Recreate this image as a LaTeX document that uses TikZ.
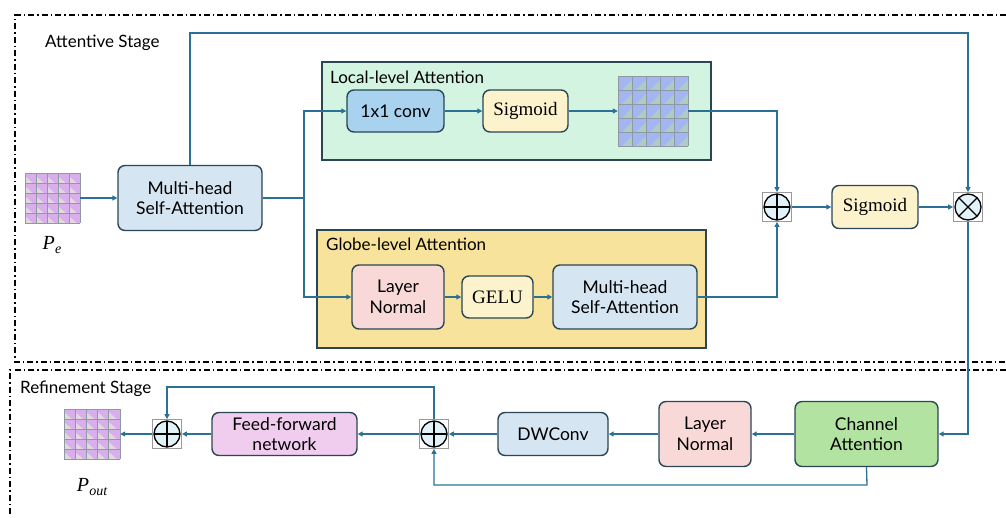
\documentclass[tikz,border=0pt]{standalone}
\usepackage{fontspec}
\setmainfont{Lato}
\newfontfamily\serifx{Liberation Serif}
\usetikzlibrary{arrows.meta}
\definecolor{lc}{HTML}{2B7193}
\definecolor{bdr}{HTML}{2A4654}
\definecolor{mhfill}{HTML}{D5E5F2}
\definecolor{convfill}{HTML}{A8D2EE}
\definecolor{sigfill}{HTML}{FCF2CC}
\definecolor{lnfill}{HTML}{F9D9D8}
\definecolor{greenbox}{HTML}{D3F4E1}
\definecolor{yellowbox}{HTML}{F8E39C}
\definecolor{cafill}{HTML}{B2E3A0}
\definecolor{ffnfill}{HTML}{F0CCEE}
\definecolor{opfill}{HTML}{E1F2F9}
\definecolor{pinkA}{HTML}{E4EDD6}
\definecolor{pinkB}{HTML}{D9AEEC}
\definecolor{blueA}{HTML}{A3B6F2}
\definecolor{blueB}{HTML}{B4D4B2}
\definecolor{gline}{HTML}{8E9AA2}
\tikzset{
  blk/.style={draw=bdr, line width=1.4pt, rounded corners=7pt, align=center,
    font=\fontsize{17.5}{20.5}\selectfont, inner sep=0pt},
  serifblk/.style={blk, font=\serifx\fontsize{19}{21}\selectfont},
  container/.style={draw=bdr, line width=1.4pt, inner sep=0pt},
  conn/.style={draw=lc, line width=1.3pt},
  arr/.style={conn, -{Triangle[length=5pt,width=5pt]}},
  frame/.style={line width=1.6pt, dash pattern=on 6pt off 3pt on 1.5pt off 3pt},
  opbox/.style={draw=gray!80, line width=0.8pt, minimum size=29pt, inner sep=0pt},
  gridbox/.style={inner sep=0pt},
  lbl/.style={font=\fontsize{17}{20}\selectfont, anchor=west, inner sep=0pt},
}
\newcommand\addop[3]{%
  \node[opbox] (#1) at (#2,#3) {};
  \draw[line width=1.3pt, fill=opfill] (#1.center) circle (13pt);
  \draw[line width=1.3pt] ([xshift=-13pt]#1.center) -- ([xshift=13pt]#1.center)
    ([yshift=-13pt]#1.center) -- ([yshift=13pt]#1.center);
}
\newcommand\mulop[3]{%
  \node[opbox] (#1) at (#2,#3) {};
  \draw[line width=1.3pt, fill=opfill] (#1.center) circle (13pt);
  \draw[line width=1.3pt] ([shift={(-9.2pt,-9.2pt)}]#1.center) -- ([shift={(9.2pt,9.2pt)}]#1.center)
    ([shift={(-9.2pt,9.2pt)}]#1.center) -- ([shift={(9.2pt,-9.2pt)}]#1.center);
}
% grid: name, x0, y0 (top-left), cell w, cell h, main colour, corner colour, corner (1 = bottom-left, 2 = bottom-right)
\newcommand\cellgrid[8]{%
  \fill[#6] (#2,#3) rectangle ({#2+5*#4},{#3+5*#5});
  \foreach \i in {0,...,4}{\foreach \j in {0,...,4}{%
    \ifnum#8=1
      \fill[#7, opacity=0.7] ({#2+\i*#4},{#3+\j*#5+0.3*#5}) -- ({#2+\i*#4},{#3+(\j+1)*#5}) -- ({#2+\i*#4+0.7*#4},{#3+(\j+1)*#5}) -- cycle;
    \else
      \fill[#7, opacity=0.7] ({#2+(\i+1)*#4},{#3+\j*#5+0.3*#5}) -- ({#2+(\i+1)*#4},{#3+(\j+1)*#5}) -- ({#2+\i*#4+0.3*#4},{#3+(\j+1)*#5}) -- cycle;
    \fi
  }}
  \foreach \i in {0,...,5}{%
    \draw[gline, line width=0.8pt] ({#2+\i*#4},#3) -- ({#2+\i*#4},{#3+5*#5});
    \draw[gline, line width=0.8pt] (#2,{#3+\i*#5}) -- ({#2+5*#4},{#3+\i*#5});
  }
  \node[gridbox, minimum width={5*#4}, minimum height={5*#5}] (#1) at ({#2+2.5*#4},{#3+2.5*#5}) {};
}
\begin{document}
\begin{tikzpicture}[x=1pt,y=-1pt]
\useasboundingbox (0,0) rectangle (1006,517);

% stage frames
\draw[frame] (1006,15) -- (15,15) -- (15,362) -- (1006,362);
\draw[frame] (1006,370) -- (10,370) -- (10,517);
\node[lbl] (att) at (45,43) {Attentive Stage};
\node[lbl] (ref) at (20,389) {Refinement Stage};

% containers
\node[container, fill=greenbox, minimum width=389pt, minimum height=98pt] (local) at (516.5,111) {};
\node[lbl] (locallbl) at (330,77) {Local-level Attention};
\node[container, fill=yellowbox, minimum width=389pt, minimum height=118pt] (globe) at (511.5,289) {};
\node[lbl] (globelbl) at (326,244) {Globe-level Attention};

% input grid
\cellgrid{pe}{25}{173}{11}{10}{pinkB}{pinkA}{1}
\node[font=\serifx\itshape\fontsize{20}{21}\selectfont, inner sep=0pt] (pelbl) at (52,245) {P\kern0.3pt\raisebox{-4pt}{\fontsize{14}{14}\selectfont e}};

\node[blk, fill=mhfill, minimum width=144pt, minimum height=65pt] (mh1) at (190,198) {Multi-head\\Self-Attention};

% local branch
\node[blk, fill=convfill, minimum width=97pt, minimum height=42pt] (conv) at (395.5,111) {1x1 conv};
\node[serifblk, fill=sigfill, minimum width=85pt, minimum height=42pt] (sig1) at (525.5,111) {Sigmoid};
\cellgrid{lg}{618}{76}{14}{14}{blueA}{blueB}{2}

% globe branch
\node[blk, fill=lnfill, minimum width=92pt, minimum height=64pt] (ln1) at (398,297) {Layer\\Normal};
\node[serifblk, fill=sigfill, minimum width=71pt, minimum height=42pt] (gelu) at (497.5,297) {GELU};
\node[blk, fill=mhfill, minimum width=144pt, minimum height=64pt] (mh2) at (625,297) {Multi-head\\Self-Attention};

% fusion
\addop{add1}{777}{207}
\node[serifblk, fill=sigfill, minimum width=86pt, minimum height=43pt] (sig2) at (875,207) {Sigmoid};
\mulop{mul}{968}{207}

% refinement
\node[blk, fill=cafill, minimum width=143pt, minimum height=65pt] (ca) at (866.5,434) {Channel\\Attention};
\node[blk, fill=lnfill, minimum width=92pt, minimum height=65pt] (ln2) at (705,434) {Layer\\Normal};
\node[blk, fill=mhfill, minimum width=110pt, minimum height=43pt] (dw) at (553,434) {DWConv};
\addop{add2}{434}{434}
\node[blk, fill=ffnfill, minimum width=145pt, minimum height=43pt] (ffn) at (284.5,434) {Feed-forward\\network};
\addop{add3}{167}{434}
\cellgrid{pout}{64}{409}{11.2}{10}{pinkB}{pinkA}{1}
\node[font=\serifx\itshape\fontsize{20}{21}\selectfont, inner sep=0pt] (poutlbl) at (92,487) {P\kern0.3pt\raisebox{-4pt}{\fontsize{14}{14}\selectfont out}};

% connectors
\coordinate (tl) at (190,33);
\coordinate (sp) at (304,198);
\coordinate (lb) at (867,485);
\coordinate (rt) at (434,387);

\draw[arr] (pe.east) -- (mh1.west);
\draw[arr] (mh1.north) -- (tl) -| (mul.north);
\draw[conn] (mh1.east) -- (sp);
\draw[arr] (sp) |- (conv.west);
\draw[arr] (sp) |- (ln1.west);
\draw[arr] (conv.east) -- (sig1.west);
\draw[arr] (sig1.east) -- (lg.west);
\draw[arr] (lg.east) -| (add1.north);
\draw[arr] (ln1.east) -- (gelu.west);
\draw[arr] (gelu.east) -- (mh2.west);
\draw[arr] (mh2.east) -| (add1.south);
\draw[arr] (add1.east) -- (sig2.west);
\draw[arr] (sig2.east) -- (mul.west);
\draw[arr] (mul.south) |- (ca.east);
\draw[arr] (ca.west) -- (ln2.east);
\draw[arr] (ln2.west) -- (dw.east);
\draw[arr] (dw.west) -- (add2.east);
\draw[arr] (ca.south) -- (lb) -| (add2.south);
\draw[arr] (add2.west) -- (ffn.east);
\draw[arr] (add2.north) -- (rt) -| (add3.north);
\draw[arr] (ffn.west) -- (add3.east);
\draw[arr] (add3.west) -- (pout.east);
\end{tikzpicture}
\end{document}
